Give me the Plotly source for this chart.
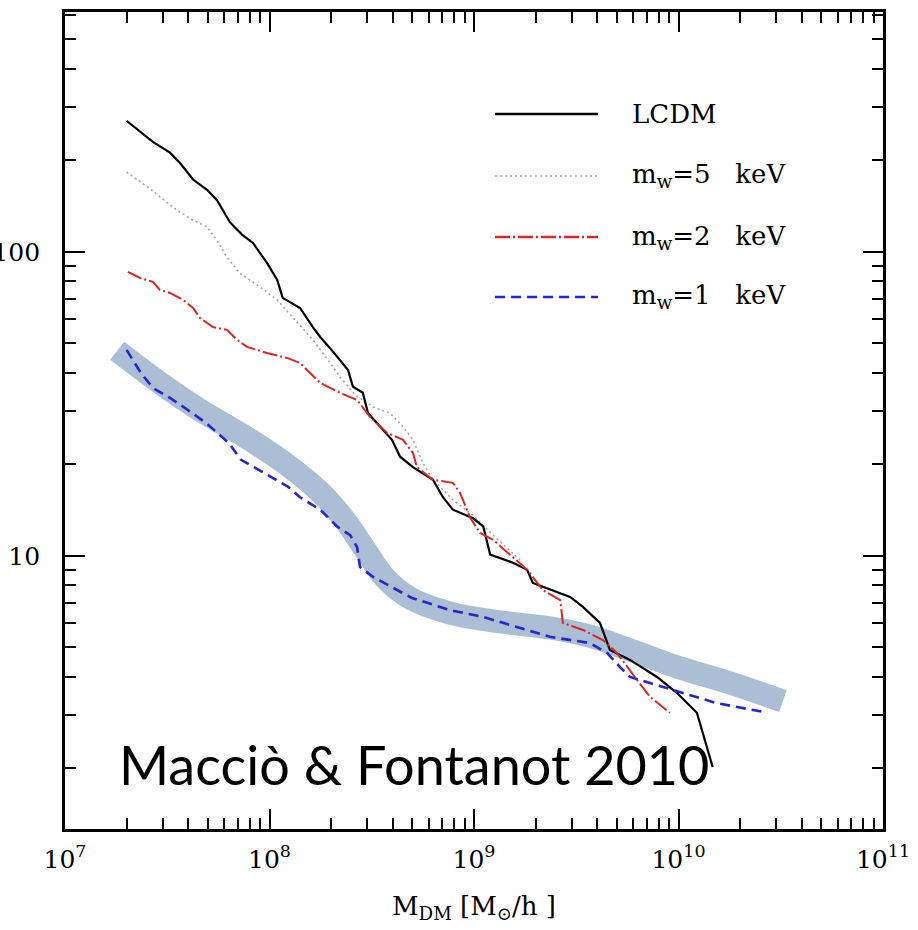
import plotly.graph_objects as go

# ---- data (halo mass [Msun/h], cumulative number) ----
mass_lcdm = [2.0e7, 2.69e7, 3.26e7, 3.65e7, 4.23e7, 4.95e7, 5.54e7, 6.41e7, 7.34e7, 8.30e7,
             9.72e7, 1.09e8, 1.16e8, 1.41e8, 1.63e8, 1.77e8, 2.05e8, 2.42e8, 2.56e8, 2.86e8,
             3.03e8, 3.47e8, 3.97e8, 4.35e8, 5.03e8, 6.30e8, 7.05e8, 7.89e8, 9.89e8, 1.11e9,
             1.20e9, 1.55e9, 1.82e9, 1.94e9, 2.95e9, 3.41e9, 4.13e9, 4.62e9, 5.79e9, 7.85e9,
             9.84e9, 1.23e10, 1.47e10]
n_lcdm = [270, 230, 212, 196, 173, 160, 148, 125, 114, 107,
          92, 81, 70.6, 65.4, 56.6, 52.5, 46.9, 40.9, 36.0, 34.4,
          29.5, 26.6, 24.1, 21.2, 19.6, 17.8, 15.6, 14.2, 13.3, 12.5,
          10.1, 9.5, 9.0, 8.15, 7.33, 6.8, 6.02, 4.91, 4.55, 4.0,
          3.54, 3.05, 2.02]

mass_5kev = [2.0e7, 2.52e7, 2.91e7, 3.53e7, 4.23e7, 4.95e7, 5.54e7, 6.20e7, 7.17e7, 8.99e7,
             1.09e8, 1.30e8, 1.63e8, 1.98e8, 2.21e8, 2.62e8, 3.21e8, 3.88e8, 4.50e8, 5.03e8,
             5.63e8, 6.30e8, 7.89e8, 9.89e8, 1.24e9, 1.68e9]
n_5kev = [183, 164, 152, 137, 127, 121, 109, 96, 85, 76.7,
          69.5, 61.1, 51.4, 43.1, 38.8, 33.9, 30.9, 29.5, 26.6, 24.1,
          20.2, 17.8, 15.3, 13.6, 11.7, 9.7]

mass_2kev = [2.03e7, 2.33e7, 2.69e7, 2.91e7, 3.26e7, 3.78e7, 4.23e7, 4.57e7, 5.29e7, 6.20e7,
             6.93e7, 7.76e7, 9.72e7, 1.22e8, 1.41e8, 1.77e8, 2.21e8, 2.68e8, 3.10e8, 3.76e8,
             4.50e8, 5.03e8, 5.26e8, 6.30e8, 7.89e8, 8.55e8, 9.56e8, 1.07e9, 1.24e9, 1.55e9,
             1.82e9, 2.17e9, 2.64e9, 2.72e9, 3.41e9, 4.27e9, 5.00e9, 6.27e9, 7.26e9, 9.08e9]
n_2kev = [85.9, 82.1, 79.7, 75.0, 73.3, 69.5, 65.4, 60.7, 56.6, 55.4,
          51.4, 48.7, 46.5, 44.8, 43.1, 37.1, 34.4, 32.6, 28.7, 25.4,
          24.1, 21.8, 19.6, 17.8, 17.4, 16.1, 13.4, 11.9, 11.3, 9.93,
          9.0, 7.73, 7.16, 6.02, 5.71, 5.29, 4.80, 3.91, 3.44, 3.05]

mass_1kev = [2.0e7, 2.35e7, 2.69e7, 3.26e7, 3.99e7, 4.89e7, 6.34e7, 7.26e7, 9.50e7, 1.23e8,
             1.41e8, 1.77e8, 2.14e8, 2.48e8, 2.68e8, 2.77e8, 3.21e8, 4.98e8, 7.63e8, 1.11e9,
             1.62e9, 2.35e9, 3.69e9, 4.47e9, 5.18e9, 5.79e9, 7.26e9, 1.05e10, 1.54e10, 2.59e10]
n_1kev = [47.6, 40.0, 35.7, 33.1, 30.2, 27.4, 23.5, 20.7, 18.7, 16.9,
          15.6, 14.2, 12.5, 11.7, 10.7, 9.2, 8.53, 7.27, 6.64, 6.30,
          5.84, 5.42, 5.17, 4.80, 4.31, 4.0, 3.82, 3.54, 3.28, 3.07]

# hand-drawn highlight band (Macciò & Fontanot 2010 fit)
mass_band = [1.80e7, 2.91e7, 4.57e7, 8.03e7, 1.26e8, 1.77e8, 2.34e8, 2.93e8, 3.67e8, 4.86e8,
             7.63e8, 1.34e9, 2.35e9, 3.69e9, 5.79e9, 1.02e10, 1.79e10, 3.24e10]
n_band = [47.3, 37.1, 30.2, 24.1, 19.6, 16.2, 13.1, 10.5, 8.47, 7.27,
          6.49, 6.07, 5.80, 5.45, 4.91, 4.28, 3.82, 3.33]

x_tick_vals = [1e7, 1e8, 1e9, 1e10, 1e11]
x_tick_text = ["10<sup>7</sup>", "10<sup>8</sup>", "10<sup>9</sup>", "10<sup>10</sup>", "10<sup>11</sup>"]
y_tick_vals = [10, 100]
y_tick_text = ["10", "100"]

NB = "\u00a0\u00a0\u00a0"
legend_labels = ["LCDM", "m<sub>w</sub>=5" + NB + "keV", "m<sub>w</sub>=2" + NB + "keV",
                 "m<sub>w</sub>=1" + NB + "keV"]

SERIF = "DejaVu Serif"
col_lcdm = "black"
col_5 = "rgb(165,165,165)"
col_2 = "rgb(218,38,38)"
col_1 = "rgb(38,38,205)"
dash_5 = "2px,3px"
dash_2 = "15px,3px,2px,3px"
dash_1 = "10px,6px"

fig = go.Figure()
fig.add_trace(go.Scatter(x=mass_band, y=n_band, mode="lines",
                         line=dict(color="rgb(170,190,213)", width=23, shape="spline", smoothing=1.0),
                         hoverinfo="skip"))
fig.add_trace(go.Scatter(x=mass_5kev, y=n_5kev, mode="lines", line=dict(color=col_5, width=1.6, dash=dash_5)))
fig.add_trace(go.Scatter(x=mass_lcdm, y=n_lcdm, mode="lines", line=dict(color=col_lcdm, width=2.2)))
fig.add_trace(go.Scatter(x=mass_2kev, y=n_2kev, mode="lines", line=dict(color=col_2, width=2, dash=dash_2)))
fig.add_trace(go.Scatter(x=mass_1kev, y=n_1kev, mode="lines", line=dict(color=col_1, width=2.6, dash=dash_1)))

x_minor = [m * 10 ** e for e in range(7, 11) for m in range(2, 10)]
y_minor = [m * 10 ** e for e in range(0, 3) for m in range(2, 10)]

axis_common = dict(type="log", showgrid=False, zeroline=False, showline=True, linecolor="black",
                   linewidth=2.7, mirror="allticks", ticks="inside", ticklen=20, tickwidth=2,
                   tickcolor="black", automargin=False,
                   tickfont=dict(family=SERIF, size=25, color="black"))

fig.update_xaxes(range=[7, 11], tickmode="array", tickvals=x_tick_vals, ticktext=x_tick_text,
                 ticklabelstandoff=6,
                 minor=dict(tickmode="array", tickvals=x_minor, ticks="inside", ticklen=11,
                            tickwidth=1.8, tickcolor="black", showgrid=False),
                 title=dict(text="M<sub>DM</sub> [M<sub>\u2299</sub>/h ]",
                            font=dict(family=SERIF, size=26, color="black"), standoff=24),
                 **axis_common)
fig.update_yaxes(range=[0.102, 2.789], tickmode="array", tickvals=y_tick_vals, ticktext=y_tick_text,
                 ticklabelstandoff=17,
                 minor=dict(tickmode="array", tickvals=y_minor, ticks="inside", ticklen=11,
                            tickwidth=1.8, tickcolor="black", showgrid=False),
                 **axis_common)

# custom legend (long line samples as in the reference)
legend_y = [0.8752, 0.7993, 0.7246, 0.6512]
legend_style = [(col_lcdm, "solid", 2.6), (col_5, dash_5, 1.6), (col_2, dash_2, 2.6), (col_1, dash_1, 2.6)]
for ly, (c, d, w), lab in zip(legend_y, legend_style, legend_labels):
    fig.add_shape(type="line", xref="paper", yref="paper", x0=0.5257, x1=0.6516, y0=ly, y1=ly,
                  line=dict(color=c, dash=d, width=w))
    fig.add_annotation(xref="paper", yref="paper", x=0.6907, y=ly, xanchor="left", yanchor="middle",
                       text=lab, showarrow=False, font=dict(family=SERIF, size=26, color="black"))

fig.add_annotation(xref="paper", yref="paper", x=0.0635, y=0.0784, xanchor="left", yanchor="middle",
                   text="Macci\u00f2 &amp; Fontanot 2010", showarrow=False,
                   font=dict(family="Lato", size=54, color="black"))

fig.update_layout(width=918, height=930, autosize=False, showlegend=False,
                  margin=dict(l=65, r=35, t=12, b=101, pad=0),
                  paper_bgcolor="white", plot_bgcolor="white", hovermode=False)

fig.write_html("out.html")
